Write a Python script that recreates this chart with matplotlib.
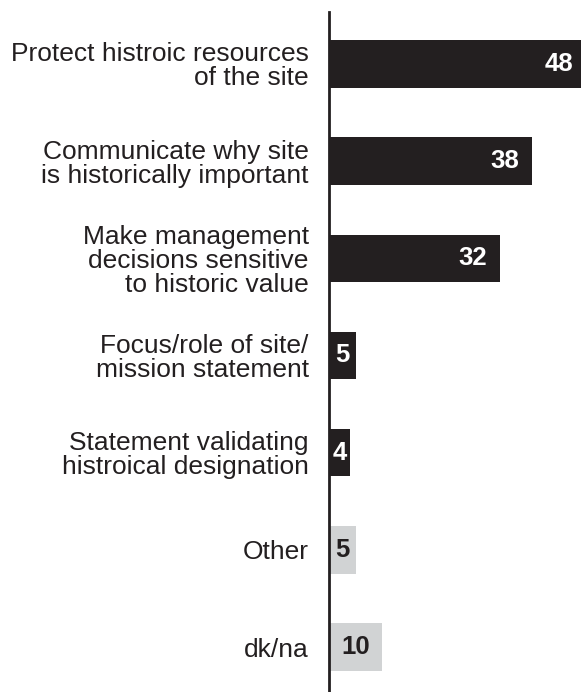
import matplotlib.pyplot as plt

plt.rcParams['font.family'] = ['Liberation Sans', 'DejaVu Sans']

categories = [
    'Protect histroic resources\nof the site',
    'Communicate why site\nis historically important',
    'Make management\ndecisions sensitive\nto historic value',
    'Focus/role of site/\nmission statement',
    'Statement validating\nhistroical designation',
    'Other',
    'dk/na',
]
values = [48, 38, 32, 5, 4, 5, 10]
is_other = [False, False, False, False, False, True, True]

dark = '#231f20'
grey = '#d1d3d4'

fig = plt.figure(figsize=(5.81, 6.92), dpi=100)
ax = fig.add_axes([329 / 581, 0, 1 - 329 / 581, 1 - 12 / 692])

ypos = list(range(len(values)))
colors = [grey if o else dark for o in is_other]
ax.barh(ypos, values, height=0.49, color=colors, left=0)

for y, v, o in zip(ypos, values, is_other):
    tc = dark if o else 'white'
    if v >= 20:
        # big bars: number sits just inside the end of the bar
        ax.annotate(str(v), (v, y), xytext=(-9, 0), textcoords='offset points',
                    ha='right', va='center', color=tc, fontsize=18.5,
                    fontweight='bold', annotation_clip=False)
    else:
        ax.text(v / 2, y, str(v), ha='center', va='center', color=tc,
                fontsize=18.5, fontweight='bold')

ax.set_xlim(0, 252 / 5.34)
ax.set_ylim(len(values) - 0.537, -0.535)
ax.set_yticks(ypos)
ax.set_yticklabels(categories, fontsize=19, color=dark, linespacing=1.0,
                   ha='right')
ax.tick_params(axis='y', length=0, pad=14.5)
ax.set_xticks([])

for s in ['top', 'right', 'bottom']:
    ax.spines[s].set_visible(False)
ax.spines['left'].set_color(dark)
ax.spines['left'].set_linewidth(2)
ax.spines['left'].set_zorder(3)

fig.savefig('out.png', dpi=100)
